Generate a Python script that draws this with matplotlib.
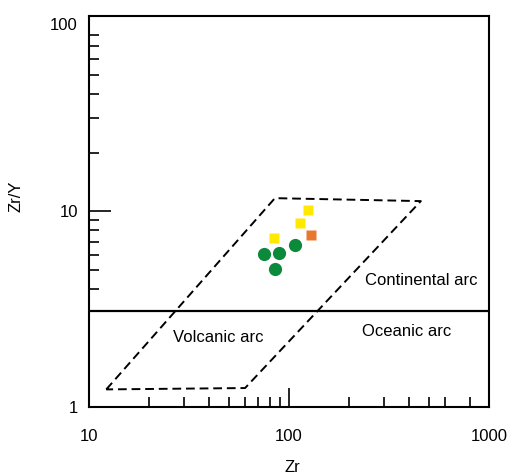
import matplotlib.pyplot as plt
from matplotlib.ticker import FixedLocator, NullFormatter
from matplotlib.transforms import ScaledTranslation

plt.rcParams['font.family'] = ['Liberation Sans', 'DejaVu Sans']

# sample groups: Zr (ppm) and Zr/Y
yellow_zr = [124.9, 113.5, 84.4]
yellow_zry = [10.2, 8.75, 7.35]
orange_zr = [128.8]
orange_zry = [7.6]
green_zr = [75.2, 89.4, 106.8, 85.4]
green_zry = [6.08, 6.13, 6.7, 5.1]

# volcanic arc field (dashed) and continental / oceanic arc divide
field_zr = [12.2, 85.0, 456.0, 60.3, 12.2]
field_zry = [1.23, 11.7, 11.3, 1.25, 1.23]
divide_zry = 3.1

x_major = [10, 100, 1000]
x_minor = [20, 30, 40, 50, 60, 70, 80, 90, 200, 300, 400, 500, 600, 800]
y_major = [1, 10, 100]
y_minor = [4, 5, 6, 7, 8, 9, 20, 30, 40, 50, 60, 70, 80]

fig = plt.figure(figsize=(5.11, 4.76), dpi=100)
ax = fig.add_axes([0.1742, 0.145, 0.7828, 0.8214])
ax.set_xscale('log')
ax.set_yscale('log')
ax.set_xlim(10, 1000)
ax.set_ylim(1, 100)

ax.plot(field_zr, field_zry, color='black', lw=1.4, dashes=(4.5, 2.5))
ax.axhline(divide_zry, color='black', lw=1.6)

ax.plot(green_zr, green_zry, 'o', ms=9.5, color='#0b8a3c', mec='none')
ax.plot(yellow_zr, yellow_zry, 's', ms=7.6, color='#ffe900', mec='none')
ax.plot(orange_zr, orange_zry, 's', ms=7.6, color='#e8782e', mec='none')

ax.text(240, 4.45, 'Continental arc', fontsize=12, ha='left', va='center')
ax.text(231, 2.42, 'Oceanic arc', fontsize=12, ha='left', va='center')
ax.text(26.3, 2.28, 'Volcanic arc', fontsize=12, ha='left', va='center')

ax.xaxis.set_major_locator(FixedLocator(x_major))
ax.xaxis.set_minor_locator(FixedLocator(x_minor))
ax.yaxis.set_major_locator(FixedLocator(y_major))
ax.yaxis.set_minor_locator(FixedLocator(y_minor))
ax.set_xticklabels([str(v) for v in x_major])
ax.set_yticklabels([str(v) for v in y_major])
ax.xaxis.set_minor_formatter(NullFormatter())
ax.yaxis.set_minor_formatter(NullFormatter())

ax.tick_params(axis='x', which='major', direction='in', length=14, width=1.2,
               pad=16, labelsize=12)
ax.tick_params(axis='x', which='minor', direction='in', length=7, width=1.2)
ax.tick_params(axis='y', which='major', direction='in', length=16, width=1.2,
               pad=8, labelsize=12)
ax.tick_params(axis='y', which='minor', direction='in', length=7, width=1.2)

# top label sits a little below the frame corner
top_lbl = ax.get_yticklabels()[-1]
top_lbl.set_transform(top_lbl.get_transform()
                      + ScaledTranslation(0, -6 / 72, fig.dpi_scale_trans))

for s in ax.spines.values():
    s.set_linewidth(1.5)

ax.set_xlabel('Zr', fontsize=12, va='top')
ax.set_ylabel('Zr/Y', fontsize=12)
ax.xaxis.set_label_coords(0.509, -0.135)
ax.yaxis.set_label_coords(-0.165, 0.538)

fig.savefig('out.png', dpi=100)
